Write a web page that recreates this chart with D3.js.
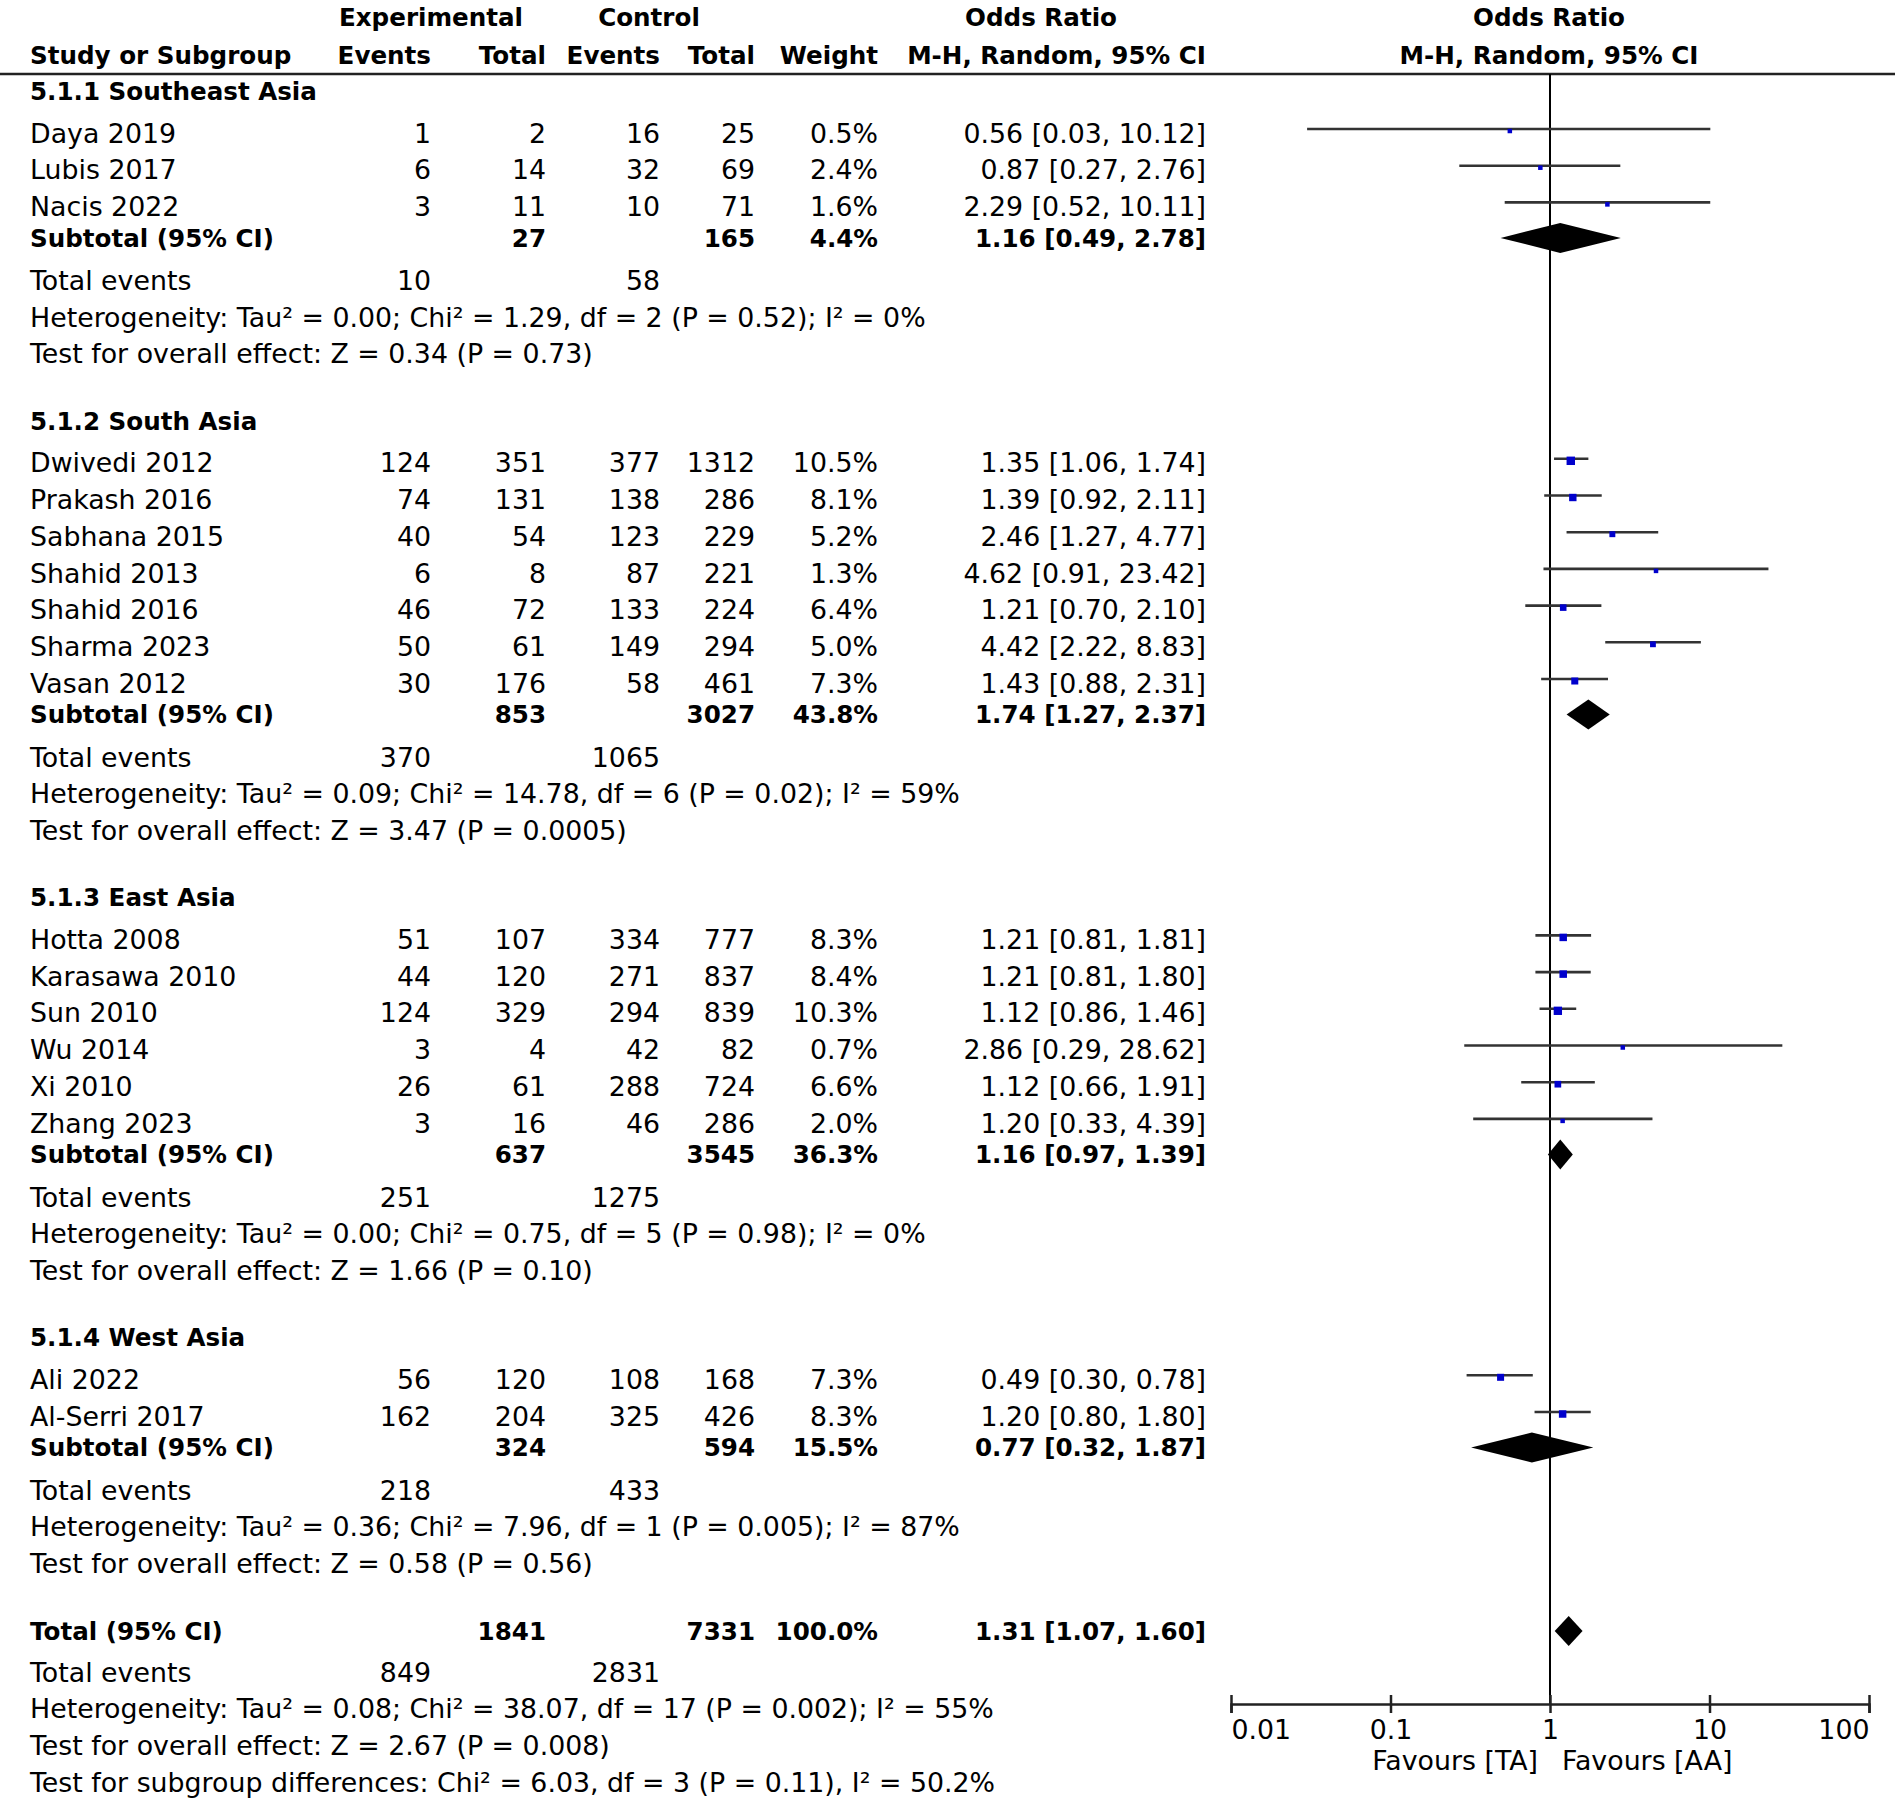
<!DOCTYPE html>
<html>
<head>
<meta charset="utf-8">
<script src="https://cdn.jsdelivr.net/npm/d3@7"></script>
<style>
body { margin: 0; background: #fff; }
text { font-family: "DejaVu Sans", sans-serif; fill: #000; }
</style>
</head>
<body>
<svg id="chart" width="1902" height="1805"></svg>
<script>
// --- data ---
var groupNames = ["5.1.1 Southeast Asia", "5.1.2 South Asia", "5.1.3 East Asia", "5.1.4 West Asia"];

var studyNames = ["Daya 2019", "Lubis 2017", "Nacis 2022",
    "Dwivedi 2012", "Prakash 2016", "Sabhana 2015", "Shahid 2013", "Shahid 2016", "Sharma 2023", "Vasan 2012",
    "Hotta 2008", "Karasawa 2010", "Sun 2010", "Wu 2014", "Xi 2010", "Zhang 2023",
    "Ali 2022", "Al-Serri 2017"];
var studyGroup = [0, 0, 0, 1, 1, 1, 1, 1, 1, 1, 2, 2, 2, 2, 2, 2, 3, 3];
var expEvents = [1, 6, 3, 124, 74, 40, 6, 46, 50, 30, 51, 44, 124, 3, 26, 3, 56, 162];
var expTotal = [2, 14, 11, 351, 131, 54, 8, 72, 61, 176, 107, 120, 329, 4, 61, 16, 120, 204];
var ctrlEvents = [16, 32, 10, 377, 138, 123, 87, 133, 149, 58, 334, 271, 294, 42, 288, 46, 108, 325];
var ctrlTotal = [25, 69, 71, 1312, 286, 229, 221, 224, 294, 461, 777, 837, 839, 82, 724, 286, 168, 426];
var weights = [0.5, 2.4, 1.6, 10.5, 8.1, 5.2, 1.3, 6.4, 5.0, 7.3, 8.3, 8.4, 10.3, 0.7, 6.6, 2.0, 7.3, 8.3];
var oddsRatio = [0.56, 0.87, 2.29, 1.35, 1.39, 2.46, 4.62, 1.21, 4.42, 1.43, 1.21, 1.21, 1.12, 2.86, 1.12, 1.20, 0.49, 1.20];
var ciLower = [0.03, 0.27, 0.52, 1.06, 0.92, 1.27, 0.91, 0.70, 2.22, 0.88, 0.81, 0.81, 0.86, 0.29, 0.66, 0.33, 0.30, 0.80];
var ciUpper = [10.12, 2.76, 10.11, 1.74, 2.11, 4.77, 23.42, 2.10, 8.83, 2.31, 1.81, 1.80, 1.46, 28.62, 1.91, 4.39, 0.78, 1.80];

var subExpTotal = [27, 853, 637, 324];
var subCtrlTotal = [165, 3027, 3545, 594];
var subWeight = [4.4, 43.8, 36.3, 15.5];
var subOR = [1.16, 1.74, 1.16, 0.77];
var subLower = [0.49, 1.27, 0.97, 0.32];
var subUpper = [2.78, 2.37, 1.39, 1.87];
var subExpEvents = [10, 370, 251, 218];
var subCtrlEvents = [58, 1065, 1275, 433];
var subHetero = [
    "Heterogeneity: Tau² = 0.00; Chi² = 1.29, df = 2 (P = 0.52); I² = 0%",
    "Heterogeneity: Tau² = 0.09; Chi² = 14.78, df = 6 (P = 0.02); I² = 59%",
    "Heterogeneity: Tau² = 0.00; Chi² = 0.75, df = 5 (P = 0.98); I² = 0%",
    "Heterogeneity: Tau² = 0.36; Chi² = 7.96, df = 1 (P = 0.005); I² = 87%"];
var subEffect = [
    "Test for overall effect: Z = 0.34 (P = 0.73)",
    "Test for overall effect: Z = 3.47 (P = 0.0005)",
    "Test for overall effect: Z = 1.66 (P = 0.10)",
    "Test for overall effect: Z = 0.58 (P = 0.56)"];

var totalCounts = [1841, 7331];
var totalEvents = [849, 2831];
var totalWeight = 100.0;
var totalOR = [1.31, 1.07, 1.60];
var totalLines = [
    "Heterogeneity: Tau² = 0.08; Chi² = 38.07, df = 17 (P = 0.002); I² = 55%",
    "Test for overall effect: Z = 2.67 (P = 0.008)",
    "Test for subgroup differences: Chi² = 6.03, df = 3 (P = 0.11), I² = 50.2%"];

var axisTicks = [0.01, 0.1, 1, 10, 100];
var favourLabels = ["Favours [TA]", "Favours [AA]"];

// --- drawing ---
var svg = d3.select("#chart"),
    fs = 26.8,
    fsBold = 24.6,
    cols = {label: 30, expEv: 431, expTot: 546, ctlEv: 660, ctlTot: 755, weight: 878, or: 1206},
    axisY = 1704,
    topLineY = 74,
    x = d3.scaleLog().domain([0.01, 100]).range([1231, 1869]),
    fmt2 = d3.format(".2f"),
    fmt1 = d3.format(".1f");

function orText(o, l, h) {
    return fmt2(o) + " [" + fmt2(l) + ", " + fmt2(h) + "]";
}

function txt(xp, y, s, anchor, bold) {
    svg.append("text")
        .attr("x", xp)
        .attr("y", y)
        .attr("dy", "0.36em")
        .attr("text-anchor", anchor || "start")
        .style("font-size", (bold ? fsBold : fs) + "px")
        .style("font-weight", bold ? "bold" : "normal")
        .text(s);
}

function diamond(y, o, l, h) {
    var pts = [[x(l), y], [x(o), y - 15], [x(h), y], [x(o), y + 15]];
    svg.append("path")
        .attr("d", d3.line()(pts) + "Z")
        .attr("fill", "#000");
}

// header
txt(431, 17, "Experimental", "middle", true);
txt(649, 17, "Control", "middle", true);
txt(1041, 17, "Odds Ratio", "middle", true);
txt(1549, 17, "Odds Ratio", "middle", true);
txt(cols.label, 55, "Study or Subgroup", "start", true);
txt(cols.expEv, 55, "Events", "end", true);
txt(cols.expTot, 55, "Total", "end", true);
txt(cols.ctlEv, 55, "Events", "end", true);
txt(cols.ctlTot, 55, "Total", "end", true);
txt(cols.weight, 55, "Weight", "end", true);
txt(cols.or, 55, "M-H, Random, 95% CI", "end", true);
txt(1549, 55, "M-H, Random, 95% CI", "middle", true);

svg.append("line")
    .attr("x1", 0).attr("x2", 1895)
    .attr("y1", topLineY).attr("y2", topLineY)
    .attr("stroke", "#222").attr("stroke-width", 2.5);

// vertical line of no effect
svg.append("line")
    .attr("x1", x(1)).attr("x2", x(1))
    .attr("y1", topLineY).attr("y2", axisY)
    .attr("stroke", "#000").attr("stroke-width", 2);

var y = 91;
groupNames.forEach(function (gName, g) {
    txt(cols.label, y, gName, "start", true);
    y += 42;
    var idx = d3.range(studyNames.length).filter(function (i) { return studyGroup[i] === g; });
    idx.forEach(function (i, k) {
        if (k > 0) { y += 36.7; }
        txt(cols.label, y, studyNames[i]);
        txt(cols.expEv, y, expEvents[i], "end");
        txt(cols.expTot, y, expTotal[i], "end");
        txt(cols.ctlEv, y, ctrlEvents[i], "end");
        txt(cols.ctlTot, y, ctrlTotal[i], "end");
        txt(cols.weight, y, fmt1(weights[i]) + "%", "end");
        txt(cols.or, y, orText(oddsRatio[i], ciLower[i], ciUpper[i]), "end");

        svg.append("line")
            .attr("x1", x(ciLower[i])).attr("x2", x(ciUpper[i]))
            .attr("y1", y - 4).attr("y2", y - 4)
            .attr("stroke", "#333").attr("stroke-width", 2.6);
        var side = Math.max(4.5, 2.6 * Math.sqrt(weights[i]));
        svg.append("rect")
            .attr("x", x(oddsRatio[i]) - side / 2)
            .attr("y", y - 2 - side / 2)
            .attr("width", side).attr("height", side)
            .attr("fill", "#0000cc");
    });
    y += 31.5;
    txt(cols.label, y, "Subtotal (95% CI)", "start", true);
    txt(cols.expTot, y, subExpTotal[g], "end", true);
    txt(cols.ctlTot, y, subCtrlTotal[g], "end", true);
    txt(cols.weight, y, fmt1(subWeight[g]) + "%", "end", true);
    txt(cols.or, y, orText(subOR[g], subLower[g], subUpper[g]), "end", true);
    diamond(y, subOR[g], subLower[g], subUpper[g]);
    y += 42.5;
    txt(cols.label, y, "Total events");
    txt(cols.expEv, y, subExpEvents[g], "end");
    txt(cols.ctlEv, y, subCtrlEvents[g], "end");
    y += 36.7;
    txt(cols.label, y, subHetero[g]);
    y += 36.7;
    txt(cols.label, y, subEffect[g]);
    y += 67;
});

y += 0.5;
txt(cols.label, y, "Total (95% CI)", "start", true);
txt(cols.expTot, y, totalCounts[0], "end", true);
txt(cols.ctlTot, y, totalCounts[1], "end", true);
txt(cols.weight, y, fmt1(totalWeight) + "%", "end", true);
txt(cols.or, y, orText(totalOR[0], totalOR[1], totalOR[2]), "end", true);
diamond(y, totalOR[0], totalOR[1], totalOR[2]);
y += 41;
txt(cols.label, y, "Total events");
txt(cols.expEv, y, totalEvents[0], "end");
txt(cols.ctlEv, y, totalEvents[1], "end");
totalLines.forEach(function (s) {
    y += 36.7;
    txt(cols.label, y, s);
});

// axis
var axis = d3.axisBottom(x)
    .tickValues(axisTicks)
    .tickFormat(function (d) { return String(d); })
    .tickSizeOuter(0)
    .tickSize(9);
var gAxis = svg.append("g")
    .attr("transform", "translate(0," + axisY + ")")
    .call(axis);
gAxis.select(".domain").attr("stroke", "#222").attr("stroke-width", 2.5);
gAxis.selectAll(".tick line")
    .attr("y1", -9).attr("y2", 9)
    .attr("stroke", "#222").attr("stroke-width", 2.5);
gAxis.selectAll(".tick text")
    .attr("y", 25).attr("dy", "0.36em")
    .attr("fill", "#000")
    .style("font-family", "DejaVu Sans")
    .style("font-size", fs + "px")
    .attr("text-anchor", function (d, i) {
        return i === 0 ? "start" : (i === axisTicks.length - 1 ? "end" : "middle");
    });
txt(x(1) - 12, 1760, favourLabels[0], "end");
txt(x(1) + 12, 1760, favourLabels[1], "start");
</script>
</body>
</html>
